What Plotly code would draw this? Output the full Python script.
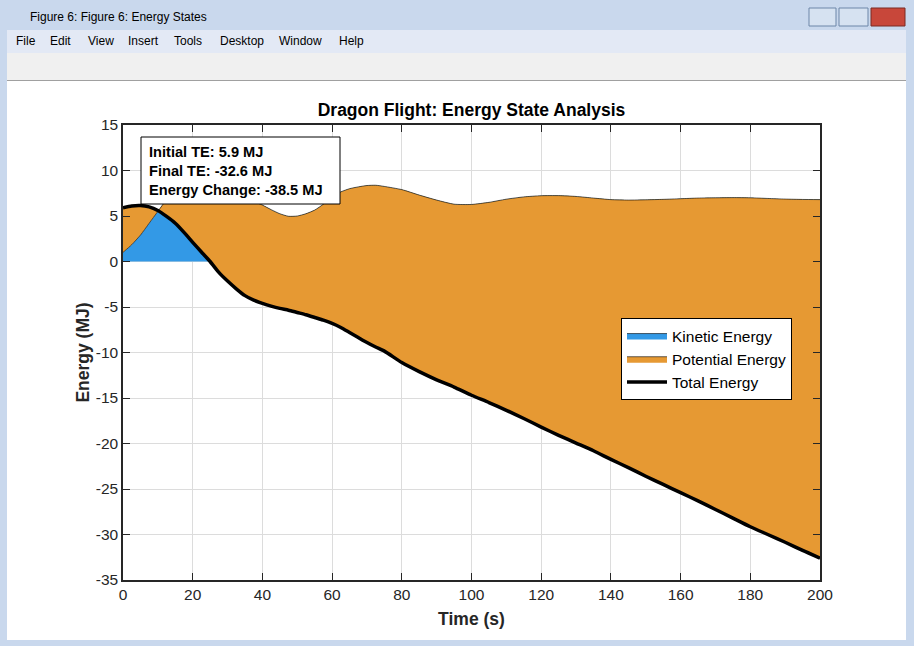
"""
Dragon flight energy states: kinetic / potential stacked areas plus total energy.
"""
import numpy as np
import plotly.graph_objects as go

# time samples (s)
time_s = [0, 2.5, 5, 7.5, 10, 12.5, 15, 17.5, 20, 22.5, 25, 27.5, 30, 32.5, 35, 37.5,
          40, 42.5, 45, 47.5, 50, 52.5, 55, 57.5, 60, 62.5, 65, 67.5, 70, 72.5, 75,
          80, 85, 90, 95, 100, 105, 110, 115, 120, 125, 130, 135, 140, 145, 150,
          155, 160, 165, 170, 175, 180, 185, 190, 195, 200]

# kinetic energy (MJ)
kinetic_mj = [1.0, 1.85, 2.9, 4.2, 5.5, 6.8, 7.8, 8.6, 9.1, 9.3, 9.2, 8.8, 8.3, 7.6, 7.0, 6.6,
              6.2, 5.7, 5.25, 4.97, 5.0, 5.25, 5.65, 6.3, 7.1, 7.65, 8.0, 8.2, 8.35, 8.38, 8.25,
              7.9, 7.3, 6.75, 6.3, 6.27, 6.5, 6.85, 7.1, 7.23, 7.24, 7.15, 6.97, 6.8, 6.75, 6.78,
              6.83, 6.9, 6.97, 7.0, 7.02, 7.0, 6.93, 6.86, 6.82, 6.8]

# total energy (MJ)
total_mj = [5.9, 6.1, 6.15, 6.0, 5.6, 4.95, 4.2, 3.2, 2.1, 1.05, 0.0, -1.2, -2.15, -3.0, -3.75, -4.25,
            -4.6, -4.9, -5.15, -5.35, -5.6, -5.85, -6.15, -6.45, -6.8, -7.25, -7.8, -8.35, -8.9, -9.4, -9.85,
            -11.1, -12.1, -13.0, -13.8, -14.7, -15.5, -16.35, -17.25, -18.2, -19.1, -19.95, -20.8, -21.75, -22.65, -23.6,
            -24.5, -25.4, -26.3, -27.25, -28.2, -29.15, -30.0, -30.85, -31.75, -32.6]

potential_mj = list(np.array(total_mj) - np.array(kinetic_mj))

# axis ticks (MATLAB style, plain hyphen minus)
x_ticks = [0, 20, 40, 60, 80, 100, 120, 140, 160, 180, 200]
y_ticks = [-35, -30, -25, -20, -15, -10, -5, 0, 5, 10, 15]

FONT = "Liberation Sans, Arial, sans-serif"
W, H = 914, 646
# plot area in page pixels
PX0, PX1, PY0, PY1 = 123, 820, 125, 580


def px(x):
    return (x - PX0) / (PX1 - PX0)


def py(y):
    return (PY1 - y) / (PY1 - PY0)


smooth = dict(shape="spline", smoothing=0.6)

fig = go.Figure()
fig.add_trace(go.Scatter(
    x=time_s, y=kinetic_mj, name="Kinetic Energy", stackgroup="energy",
    fillcolor="#3399e6", line=dict(color="black", width=0.6, **smooth),
    mode="lines",
))
fig.add_trace(go.Scatter(
    x=time_s, y=potential_mj, name="Potential Energy", stackgroup="energy",
    fillcolor="#e69933", line=dict(color="black", width=0.6, **smooth),
    mode="lines",
))
fig.add_trace(go.Scatter(
    x=time_s, y=total_mj, name="Total Energy", mode="lines",
    line=dict(color="black", width=3.5, **smooth),
))

# window chrome (MATLAB figure frame)
shapes = []


def box(x0, y0, x1, y1, color, line=None, layer="below"):
    shapes.append(dict(type="rect", xref="paper", yref="paper",
                       x0=px(x0), x1=px(x1), y0=py(y1), y1=py(y0),
                       fillcolor=color, line=dict(width=0 if line is None else 1,
                                                  color=line or color),
                       layer=layer))


box(0, 0, W, 31, "#c9d8ed")
box(0, 0, 7, H, "#c9d8ed")
box(906, 0, W, H, "#c9d8ed")
box(0, 640, W, H, "#c9d8ed")
box(7, 30, 906, 53, "#e3e9f5")
box(7, 53, 906, 80, "#f0f0f0")
box(7, 80, 906, 81, "#a0a0a0")
box(809, 8, 836, 26, "#d6e2f1", "#6d86a8")
box(839, 8, 868, 26, "#d6e2f1", "#6d86a8")
box(871, 8, 905, 26, "#c8473a", "#7a2a22")
# summary text box
box(141, 137, 340, 204, "white", "black", layer="above")

annotations = [
    dict(text="Figure 6: Figure 6: Energy States", x=px(28), y=py(17), xanchor="left",
         yanchor="middle", showarrow=False, xref="paper", yref="paper",
         font=dict(family=FONT, size=12, color="black")),
]
for label, xpos in [("File", 14), ("Edit", 48), ("View", 86), ("Insert", 126), ("Tools", 172),
                    ("Desktop", 218), ("Window", 277), ("Help", 337)]:
    annotations.append(dict(text=label, x=px(xpos), y=py(41), xanchor="left", yanchor="middle",
                            showarrow=False, xref="paper", yref="paper",
                            font=dict(family=FONT, size=12, color="black")))

summary = (f"<b>Initial TE: {total_mj[0]:.1f} MJ</b><br>"
           f"<b>Final TE: {total_mj[-1]:.1f} MJ</b><br>"
           f"<b>Energy Change: {total_mj[-1] - total_mj[0]:.1f} MJ</b>")
annotations.append(dict(
    text=summary, x=px(147), y=py(171), xanchor="left", yanchor="middle", align="left",
    showarrow=False, xref="paper", yref="paper",
    font=dict(family=FONT, size=14.6, color="black"),
))

axis_common = dict(
    showline=True, linecolor="#262626", linewidth=1.5, mirror="ticks",
    ticks="inside", ticklen=7, tickwidth=1.2, tickcolor="#262626",
    showgrid=True, gridcolor="#dcdcdc", gridwidth=1, zeroline=False,
    tickfont=dict(family=FONT, size=15.5, color="#262626"),
)

fig.update_layout(
    width=W, height=H,
    margin=dict(l=PX0, r=W - PX1, t=PY0, b=H - PY1),
    paper_bgcolor="white", plot_bgcolor="white",
    title=dict(text="<b>Dragon Flight: Energy State Analysis</b>", x=px(471.5), xref="paper",
               y=1 - 110 / H, yref="container", xanchor="center", yanchor="middle",
               font=dict(family=FONT, size=17.5, color="black")),
    xaxis=dict(range=[0, 200], tickvals=x_ticks, ticktext=[str(v) for v in x_ticks],
               title=dict(text="<b>Time (s)</b>", standoff=10,
                          font=dict(family=FONT, size=17.5, color="#262626")),
               **axis_common),
    yaxis=dict(range=[-35, 15], tickvals=y_ticks, ticktext=[str(v) for v in y_ticks],
               title=dict(text="<b>Energy (MJ)</b>", standoff=2,
                          font=dict(family=FONT, size=17.5, color="#262626")),
               **axis_common),
    legend=dict(x=px(621), y=py(318), xanchor="left", yanchor="top",
                bgcolor="white", bordercolor="black", borderwidth=1,
                font=dict(family=FONT, size=15.5, color="black"),
                itemwidth=40, tracegroupgap=0, traceorder="normal"),
    shapes=shapes,
    annotations=annotations,
    showlegend=True,
)

fig.write_html("out.html", config={"displayModeBar": False},
               post_script="document.body.style.margin='0';")
